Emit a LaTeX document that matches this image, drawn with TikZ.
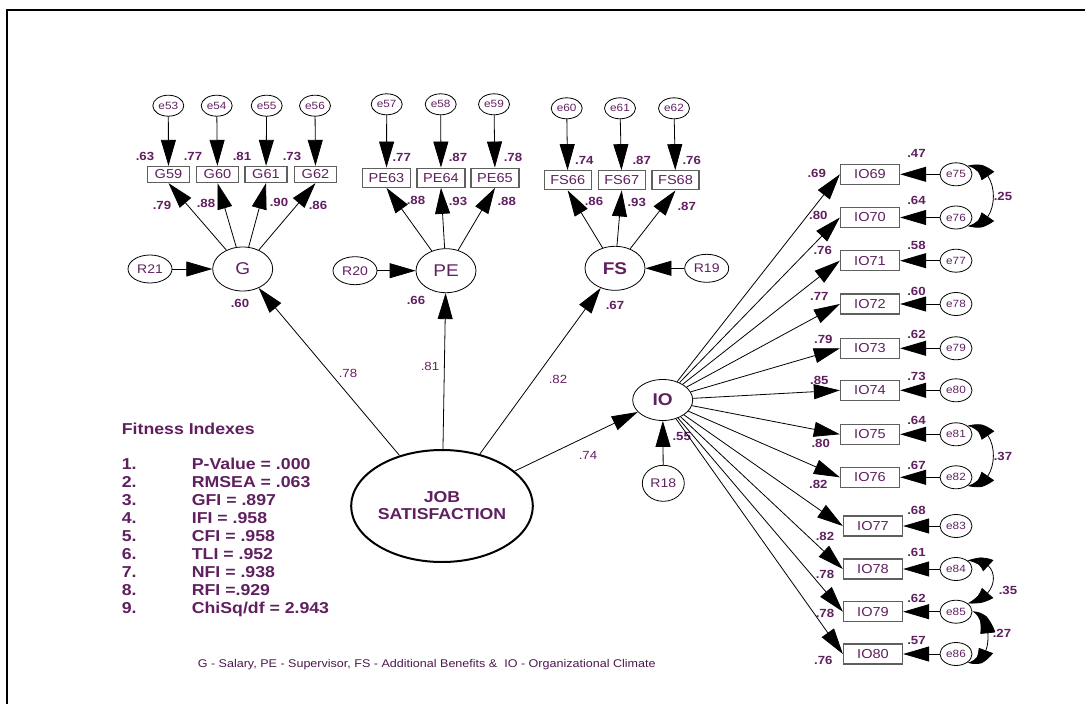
\documentclass[tikz,border=0pt]{standalone}
\usepackage{fontspec}
\setmainfont{Liberation Sans}[FakeStretch=1.12]
\usetikzlibrary{arrows.meta,shapes.geometric,bending}
\definecolor{txt}{RGB}{96,32,96}
\definecolor{bx}{RGB}{95,95,95}
\begin{document}
\begin{tikzpicture}[x=1pt,y=-1pt,
  lat/.style={ellipse,draw,line width=0.8pt,minimum width=60pt,minimum height=44pt,inner sep=0pt,text=txt,font=\fontsize{17}{17}\selectfont},
  err/.style={ellipse,draw,line width=0.8pt,minimum width=31pt,minimum height=21pt,inner sep=0pt,text=txt,font=\fontsize{10.5}{10.5}\selectfont},
  res/.style={ellipse,draw,line width=0.8pt,minimum width=44pt,minimum height=28pt,inner sep=0pt,text=txt,font=\fontsize{12.5}{12.5}\selectfont},
  obs/.style={rectangle,draw=bx,line width=1.3pt,minimum width=42pt,minimum height=16pt,inner sep=0pt,text=txt,font=\fontsize{13}{13}\selectfont},
  val/.style={text=txt,font=\bfseries\fontsize{11.8}{11.8}\selectfont,inner sep=0pt},
  valr/.style={text=txt,font=\fontsize{11.8}{11.8}\selectfont,inner sep=0pt},
  conn/.style={-{Triangle[length=26pt,width=15pt]},line width=0.8pt},
  cov/.style={{Triangle[length=26pt,width=15pt,bend]}-{Triangle[length=26pt,width=15pt,bend]},line width=0.8pt}
]
\useasboundingbox (0,0) rectangle (1085,704);
\fill[white] (0,0) rectangle (1085,704);
\draw[line width=2pt] (6.7,704) -- (6.7,10) -- (1085,10);

% ---------- G cluster
\node[err] (e53) at (168.3,105.7) {e53};
\node[err] (e54) at (216.7,105.7) {e54};
\node[err] (e55) at (266.7,105.7) {e55};
\node[err] (e56) at (315,105.7) {e56};
\node[obs] (G59) at (168.5,174.5) {G59};
\node[obs] (G60) at (217.5,174.5) {G60};
\node[obs] (G61) at (266,174.5) {G61};
\node[obs] (G62) at (315.5,174.5) {G62};
\node[lat] (G) at (242.7,269) {G};
\node[res] (R21) at (150,269) {R21};
\foreach \e/\b in {e53/G59,e54/G60,e55/G61,e56/G62}{\draw[conn] (\e) -- (\b);}
\foreach \b in {G59,G60,G61,G62}{\draw[conn] (G) -- (\b.south);}
\draw[conn] (R21) -- (G);
\node[val] (vg1) at (145,156) {.63};
\node[val] (vg2) at (193,156) {.77};
\node[val] (vg3) at (242,156) {.81};
\node[val] (vg4) at (292,156) {.73};
\node[val] (vg5) at (162,205) {.79};
\node[val] (vg6) at (206,203) {.88};
\node[val] (vg7) at (279,202) {.90};
\node[val] (vg8) at (318,205) {.86};
\node[val] (vg9) at (240,303) {.60};

% ---------- PE cluster
\node[err] (e57) at (386.7,104.3) {e57};
\node[err] (e58) at (440.7,104.3) {e58};
\node[err] (e59) at (494,104.3) {e59};
\node[obs,minimum width=48pt,minimum height=19pt] (PE63) at (386.5,177.7) {PE63};
\node[obs,minimum width=48pt,minimum height=19pt] (PE64) at (441,177.7) {PE64};
\node[obs,minimum width=48pt,minimum height=19pt] (PE65) at (495,177.7) {PE65};
\node[lat] (PE) at (446,270.7) {PE};
\node[res] (R20) at (355,270.7) {R20};
\foreach \e/\b in {e57/PE63,e58/PE64,e59/PE65}{\draw[conn] (\e) -- (\b);}
\foreach \b in {PE63,PE64,PE65}{\draw[conn] (PE) -- (\b.south);}
\draw[conn] (R20) -- (PE);
\node[val] (vp1) at (401.7,157.3) {.77};
\node[val] (vp2) at (458,157) {.87};
\node[val] (vp3) at (513,157) {.78};
\node[val] (vp4) at (416,200) {.88};
\node[val] (vp5) at (458,201.7) {.93};
\node[val] (vp6) at (506.7,201.7) {.88};
\node[val] (vp7) at (416,300) {.66};

% ---------- FS cluster
\node[err] (e60) at (566.7,108.3) {e60};
\node[err] (e61) at (620,108.3) {e61};
\node[err] (e62) at (674,108.3) {e62};
\node[obs,minimum width=47pt,minimum height=19pt] (FS66) at (567.7,180.3) {FS66};
\node[obs,minimum width=47pt,minimum height=19pt] (FS67) at (621.7,180.3) {FS67};
\node[obs,minimum width=47pt,minimum height=19pt] (FS68) at (675.5,180.3) {FS68};
\node[lat,font=\bfseries\fontsize{17}{17}\selectfont] (FS) at (615,268.3) {FS};
\node[res] (R19) at (706.7,268.3) {R19};
\foreach \e/\b in {e60/FS66,e61/FS67,e62/FS68}{\draw[conn] (\e) -- (\b);}
\foreach \b in {FS66,FS67,FS68}{\draw[conn] (FS) -- (\b.south);}
\draw[conn] (R19) -- (FS);
\node[val] (vf1) at (584.3,160) {.74};
\node[val] (vf2) at (641.7,160) {.87};
\node[val] (vf3) at (691.7,160) {.76};
\node[val] (vf4) at (594,201.7) {.86};
\node[val] (vf5) at (636.7,202.7) {.93};
\node[val] (vf6) at (686.7,206) {.87};
\node[val] (vf7) at (615,305) {.67};

% ---------- Job satisfaction
\node[ellipse,draw,line width=2pt,minimum width=152pt,minimum height=112pt,inner sep=0pt,text=txt,align=center,
  font=\bfseries\fontsize{15.8}{17}\selectfont] (JOB) at (442,506) {JOB\\SATISFACTION};
\node[lat,font=\bfseries\fontsize{17}{17}\selectfont,minimum height=41pt] (IO) at (662.7,400) {IO};
\node[res,minimum width=42pt,minimum height=36pt] (R18) at (663.3,483.3) {R18};
\draw[conn] (JOB) -- (G);
\draw[conn] (JOB) -- (PE);
\draw[conn] (JOB) -- (FS);
\draw[conn] (JOB) -- (IO);
\draw[conn] (R18) -- (IO);
\node[valr] (m1) at (348,373) {.78};
\node[valr] (m2) at (430,366) {.81};
\node[valr] (m3) at (558,379) {.82};
\node[valr] (m4) at (588,455) {.74};
\node[val] (m5) at (681.7,436.7) {.55};

% ---------- IO cluster
\foreach \i/\y/\x/\ee/\l/\ly/\lx/\r/\ry in {
  69/174.3/870/75/.69/173.3/816.7/.47/153.3,
  70/217.5/870/76/.80/215/818.3/.64/200,
  71/260.7/870/77/.76/250.7/822.7/.58/245,
  72/304/870/78/.77/296.7/819.3/.60/291.7,
  73/348.3/870/79/.79/339.3/823.3/.62/334.3,
  74/390.3/870/80/.85/380.7/819.3/.73/376.7,
  75/434.3/870/81/.80/443.3/820.7/.64/420,
  76/477.3/870/82/.82/484/818.3/.67/465,
  77/526/873/83/.82/536.7/825/.68/510,
  78/569/873/84/.78/574.3/825/.61/552.7,
  79/611.7/873/85/.78/613.3/825/.62/598.3,
  80/654/873/86/.76/660/823.3/.57/640.7}{
  \node[obs,minimum width=59pt,minimum height=20pt] (IO\i) at (\x,\y) {IO\i};
  \node[err,minimum width=32pt,minimum height=23pt] (e\ee) at (956,\y) {e\ee};
  \draw[conn] (IO) -- (IO\i.west);
  \draw[conn] (e\ee) -- (IO\i);
  \node[val] (li\i) at (\lx,\ly) {\l};
  \node[val] (ri\i) at (916.5,\ry) {\r};
}
\draw[cov] (e75.north east) .. controls (1002,163) and (1002,230) .. (e76.south east);
\draw[cov] (e81.north east) .. controls (1002,422) and (1002,489) .. (e82.south east);
\draw[cov] (e84.north east) .. controls (1002,556) and (1002,598) .. (e85.north east);
\draw[cov] (e85.east) .. controls (994,612) and (994,668) .. (e86.south east);
\node[val] (c1) at (1003,196) {.25};
\node[val] (c2) at (1003,456) {.37};
\node[val] (c3) at (1008,590) {.35};
\node[val] (c4) at (1002,633.3) {.27};

% ---------- Fitness indexes
\node[anchor=base west,inner sep=0pt,text=txt,font=\bfseries\fontsize{15.8}{17.9}\selectfont] (fit) at (121.7,434) {%
\begin{tabular}[t]{@{}p{70pt}@{}l@{}}
\multicolumn{2}{@{}l}{Fitness Indexes}\\
\\
1. & P-Value = .000\\
2. & RMSEA = .063\\
3. & GFI = .897\\
4. & IFI = .958\\
5. & CFI = .958\\
6. & TLI = .952\\
7. & NFI = .938\\
8. & RFI =.929\\
9. & ChiSq/df = 2.943
\end{tabular}};

\node[inner sep=0pt,text=txt!80!black,font=\fontsize{11.2}{12}\selectfont] (note) at (426.7,665)
 {G - Salary, PE - Supervisor, FS - Additional Benefits \&\ \ IO - Organizational Climate};
\end{tikzpicture}
\end{document}
